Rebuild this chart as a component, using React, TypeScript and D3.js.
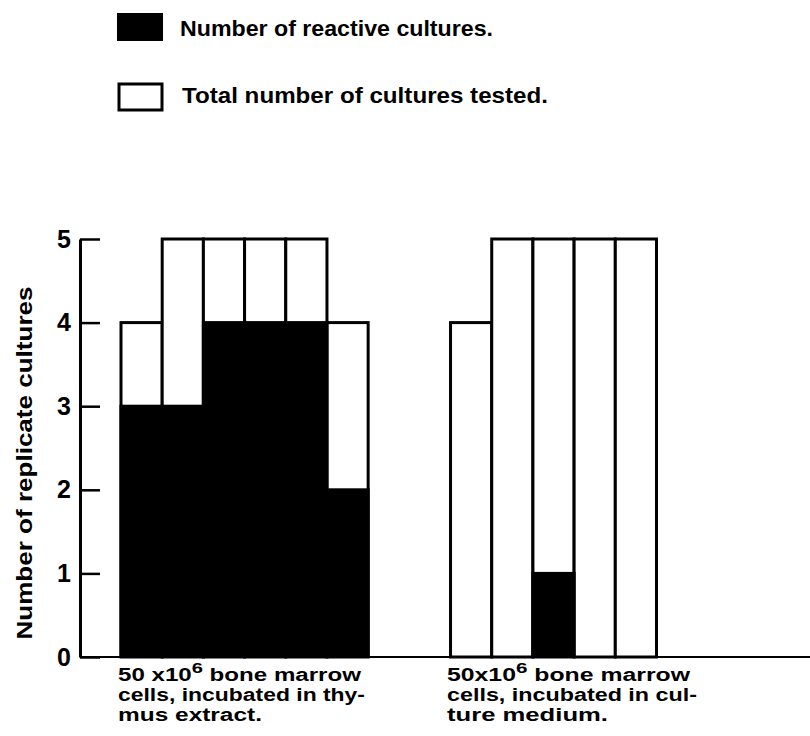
import React, { useEffect, useRef } from "react";
import * as d3 from "d3";

// bars, left to right, inside each group
const thymusTotal = [4, 5, 5, 5, 5, 4];
const thymusReactive = [3, 3, 4, 4, 4, 2];
const mediumTotal = [4, 5, 5, 5, 5];
const mediumReactive = [0, 0, 1, 0, 0];

const yTicks = [0, 1, 2, 3, 4, 5];
const legendLabels = ["Number of reactive cultures.", "Total number of cultures tested."];
const thymusLabel = ["50 x10|6| bone marrow", "cells, incubated in thy-", "mus extract."];
const mediumLabel = ["50x10|6| bone marrow", "cells, incubated in cul-", "ture medium."];
const yTitle = "Number of replicate cultures";

// widths the lettering takes in the original
const thymusLabelWidths = [243, 247, 144];
const mediumLabelWidths = [243, 250, 161];

const FONT = "'Liberation Sans', Arial, sans-serif";

const App = () => {
  const svgRef = useRef<SVGSVGElement>(null);

  useEffect(() => {
    const svg = d3.select(svgRef.current);
    svg.selectAll("*").remove();

    const y = d3.scaleLinear().domain([0, 5]).range([657, 239]);
    // 6 bars, 2 empty slots, 5 bars
    const gap = 2;
    const nSlots = thymusTotal.length + gap + mediumTotal.length;
    const x = d3.scaleBand<number>().domain(d3.range(nSlots)).range([121, 656.5]).padding(0);

    const bars = [
      ...thymusTotal.map((t, i) => ({ slot: i, total: t, reactive: thymusReactive[i] })),
      ...mediumTotal.map((t, i) => ({
        slot: thymusTotal.length + gap + i,
        total: t,
        reactive: mediumReactive[i],
      })),
    ];

    // legend
    const legend = svg.append("g").attr("font-family", FONT).attr("font-weight", "bold");
    legend.append("rect").attr("x", 117).attr("y", 13).attr("width", 46).attr("height", 28).attr("fill", "#000");
    legend
      .append("rect")
      .attr("x", 119)
      .attr("y", 84)
      .attr("width", 43)
      .attr("height", 26)
      .attr("fill", "#fff")
      .attr("stroke", "#000")
      .attr("stroke-width", 3);
    legend
      .append("text")
      .attr("x", 180)
      .attr("y", 36)
      .attr("font-size", 22)
      .attr("textLength", 313)
      .attr("lengthAdjust", "spacingAndGlyphs")
      .text(legendLabels[0]);
    legend
      .append("text")
      .attr("x", 182)
      .attr("y", 103)
      .attr("font-size", 22)
      .attr("textLength", 366)
      .attr("lengthAdjust", "spacingAndGlyphs")
      .text(legendLabels[1]);

    // bars: white total, black reactive
    const g = svg.append("g");
    g.selectAll("rect.total")
      .data(bars)
      .join("rect")
      .attr("class", "total")
      .attr("x", (d) => x(d.slot)!)
      .attr("y", (d) => y(d.total))
      .attr("width", x.bandwidth())
      .attr("height", (d) => y(0) - y(d.total))
      .attr("fill", "#fff")
      .attr("stroke", "#000")
      .attr("stroke-width", 3);
    g.selectAll("rect.reactive")
      .data(bars.filter((d) => d.reactive > 0))
      .join("rect")
      .attr("class", "reactive")
      .attr("x", (d) => x(d.slot)! - 1.5)
      .attr("y", (d) => y(d.reactive) - 1.5)
      .attr("width", x.bandwidth() + 3)
      .attr("height", (d) => y(0) - y(d.reactive) + 1.5)
      .attr("fill", "#000");

    // baseline
    svg
      .append("line")
      .attr("x1", 80)
      .attr("x2", 810)
      .attr("y1", y(0))
      .attr("y2", y(0))
      .attr("stroke", "#000")
      .attr("stroke-width", 2);

    // y axis, ticks pointing inwards
    const yAxis = d3
      .axisLeft(y)
      .tickValues(yTicks)
      .tickSizeInner(-20)
      .tickSizeOuter(0)
      .tickPadding(9)
      .tickFormat((d) => String(d));
    const ag = svg.append("g").attr("transform", "translate(80,0)").call(yAxis);
    ag.select(".domain").attr("stroke-width", 3);
    ag.selectAll(".tick line").attr("stroke-width", 2.5);
    ag.selectAll(".tick text")
      .attr("font-family", FONT)
      .attr("font-weight", "bold")
      .attr("font-size", 25)
      .attr("fill", "#000");

    // y title
    svg
      .append("text")
      .attr("transform", `translate(32,${(y(0) + y(5)) / 2 + 15}) rotate(-90)`)
      .attr("text-anchor", "middle")
      .attr("font-family", FONT)
      .attr("font-weight", "bold")
      .attr("font-size", 22)
      .attr("textLength", 353)
      .attr("lengthAdjust", "spacingAndGlyphs")
      .text(yTitle);

    // group labels (|6| marks the superscript)
    const drawLabel = (lines: string[], widths: number[], x0: number) => {
      const t = svg.append("g").attr("font-family", FONT).attr("font-weight", "bold").attr("font-size", 18);
      lines.forEach((line, i) => {
        const txt = t
          .append("text")
          .attr("x", x0)
          .attr("y", 681 + i * 20)
          .attr("textLength", widths[i])
          .attr("lengthAdjust", "spacingAndGlyphs");
        line.split("|").forEach((part, j) => {
          const ts = txt.append("tspan").text(part);
          if (j === 1) ts.attr("dy", -8).attr("font-size", 15);
          if (j === 2) ts.attr("dy", 8);
        });
      });
    };
    drawLabel(thymusLabel, thymusLabelWidths, 118);
    drawLabel(mediumLabel, mediumLabelWidths, 447);
  }, []);

  return (
    <svg
      ref={svgRef}
      width={810}
      height={736}
      style={{ position: "absolute", left: 0, top: 0, background: "#fff" }}
    />
  );
};

export default App;
